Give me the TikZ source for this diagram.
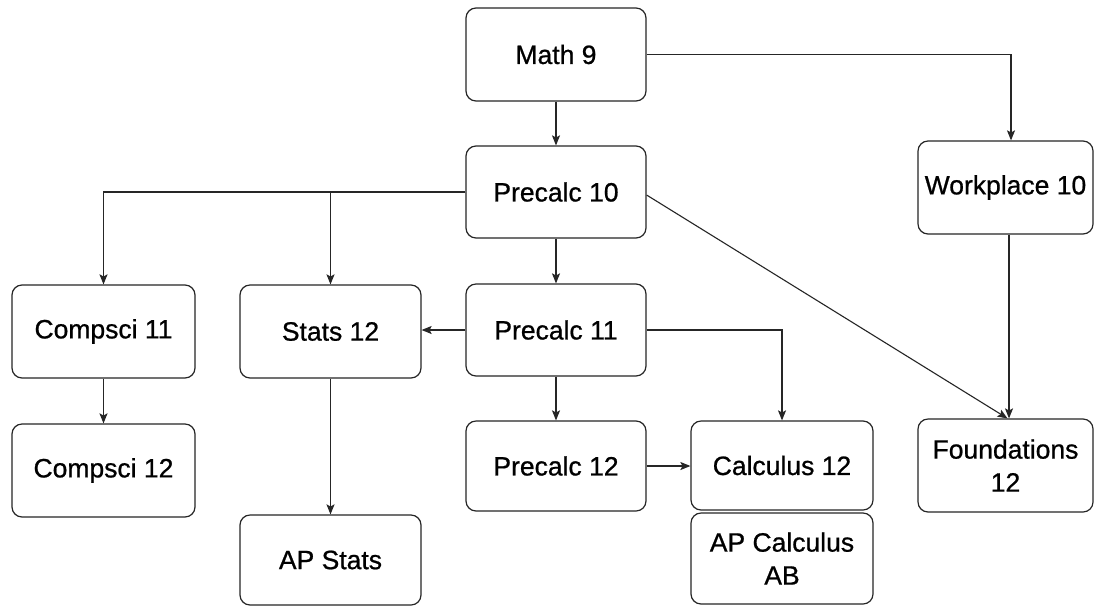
\documentclass[tikz,border=0pt]{standalone}
\usepackage{fontspec}
\setmainfont{Liberation Sans}
\newfontfamily\boxfont{Liberation Sans}[FakeBold=0.8]
\usetikzlibrary{arrows.meta}
\begin{document}
\begin{tikzpicture}[x=1pt,y=-1pt,
  box/.style={draw=black!85, line width=1.2pt, rounded corners=10pt, align=center,
    font=\boxfont\fontsize{26.5}{33}\selectfont, inner sep=0pt, minimum width=180pt, minimum height=93pt},
  conn/.style={draw=black!85, line width=1.1pt, -{Stealth[length=10pt,width=8pt,inset=2pt]}}]
\useasboundingbox (0,0) rectangle (1094,606);
\fill[white] (0,0) rectangle (1094,606);
\node[box] (m9) at (556,54.5) {Math 9};
\node[box, minimum height=92pt] (p10) at (556,192) {Precalc 10};
\node[box, minimum width=175pt] (wp) at (1005.5,187.5) {Workplace 10};
\node[box, minimum width=183pt] (cs11) at (103.5,331.5) {Compsci 11};
\node[box, minimum width=181pt] (st12) at (330.5,331.5) {Stats 12};
\node[box, minimum height=92pt] (p11) at (556,330) {Precalc 11};
\node[box, minimum width=183pt] (cs12) at (103.5,470.5) {Compsci 12};
\node[box, minimum height=90pt] (p12) at (556,466) {Precalc 12};
\node[box, minimum width=182pt, minimum height=89pt] (calc) at (782,465.5) {Calculus 12};
\node[box, minimum width=182pt, minimum height=91pt] (apc) at (782,558.5) {AP Calculus\\AB};
\node[box, minimum width=181pt, minimum height=90pt] (aps) at (330.5,560) {AP Stats};
\node[box, minimum width=175pt] (fnd) at (1005.5,465.5) {Foundations\\12};

\draw[conn] (m9) -- (p10);
\draw[conn] (m9.east) -| ([xshift=5.5pt]wp.north);
\draw[conn] (p10.west) -| (cs11.north);
\draw[conn] (p10.west) -| (st12.north);
\draw[conn] (p10) -- (p11);
\draw[conn] ([yshift=-3pt]p10.east) -- ([xshift=2pt]fnd.north);
\draw[conn] ([xshift=3.5pt]wp.south) -- ([xshift=3.5pt]fnd.north);
\draw[conn] (p11.west) -- (p11.west -| st12.east);
\draw[conn] (p11.east) -| (calc.north);
\draw[conn] (p11) -- (p12);
\draw[conn] (p12.east) -- (p12.east -| calc.west);
\draw[conn] (cs11) -- (cs12);
\draw[conn] (st12) -- (aps);
\end{tikzpicture}
\end{document}
